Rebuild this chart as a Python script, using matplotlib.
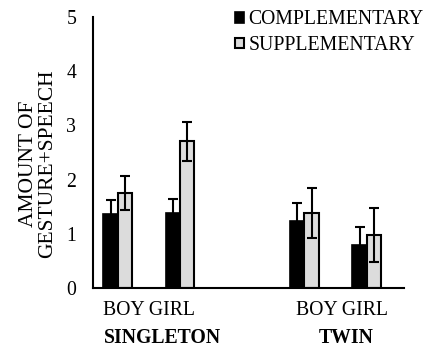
import matplotlib
matplotlib.use("Agg")
import matplotlib.pyplot as plt
from matplotlib.patches import Patch
import numpy as np

plt.rcParams['font.family'] = ['Liberation Serif', 'DejaVu Serif']

groups = ["SINGLETON", "TWIN"]
genders = ["BOY", "GIRL"]
series_names = ["COMPLEMENTARY", "SUPPLEMENTARY"]
complementary = [1.37, 1.38, 1.24, 0.79]
complementary_err = [0.25, 0.26, 0.33, 0.34]
supplementary = [1.75, 2.71, 1.38, 0.98]
supplementary_err = [0.32, 0.36, 0.46, 0.50]
yticks = [0, 1, 2, 3, 4, 5]

positions = np.array([1, 2, 4, 5])
w = 0.23
fs = 14.2

fig = plt.figure(figsize=(4.28, 3.52), dpi=100)
ax = fig.add_axes([0.217, 0.182, 0.727, 0.77])

ax.bar(positions - w/2, complementary, w, color='black', edgecolor='black', linewidth=1.2,
       yerr=complementary_err, error_kw=dict(ecolor='black', elinewidth=1.5, capsize=3.6, capthick=1.5))
ax.bar(positions + w/2, supplementary, w, color='#dcdcdc', edgecolor='black', linewidth=1.5,
       yerr=supplementary_err, error_kw=dict(ecolor='black', elinewidth=1.5, capsize=3.6, capthick=1.5))

ax.set_xlim(0.6, 5.6)
ax.set_ylim(0, 5)
ax.set_yticks(yticks)
ax.set_yticklabels([str(t) for t in yticks], fontsize=fs)
ax.tick_params(axis='y', length=0, pad=12)
ax.set_xticks([])
for s in ['top', 'right']:
    ax.spines[s].set_visible(False)
for s in ['left', 'bottom']:
    ax.spines[s].set_linewidth(1.5)
    ax.spines[s].set_color('black')

# category labels
label_centers = [1.5, 4.6]
group_centers = [1.72, 4.67]
for lc, gc, g in zip(label_centers, group_centers, groups):
    ax.text(lc, -0.42, " ".join(genders), ha='center', va='center', fontsize=fs, clip_on=False)
    ax.text(gc, -0.92, g, ha='center', va='center', fontsize=fs, fontweight='bold',
            clip_on=False)

fig.text(0.088, 0.536, "AMOUNT OF\nGESTURE+SPEECH", rotation=90, ha='center', va='center',
         fontsize=15.5, linespacing=1.0)

handles = [Patch(facecolor='black', edgecolor='black', linewidth=1.2),
           Patch(facecolor='#dcdcdc', edgecolor='black', linewidth=1.5)]
fig.legend(handles, series_names, loc='upper right', bbox_to_anchor=(1.027, 1.015),
           frameon=False, fontsize=fs, handlelength=0.45, handleheight=0.45,
           handletextpad=0.25, labelspacing=0.33, borderpad=0.3)

fig.savefig("out.png", dpi=100)
